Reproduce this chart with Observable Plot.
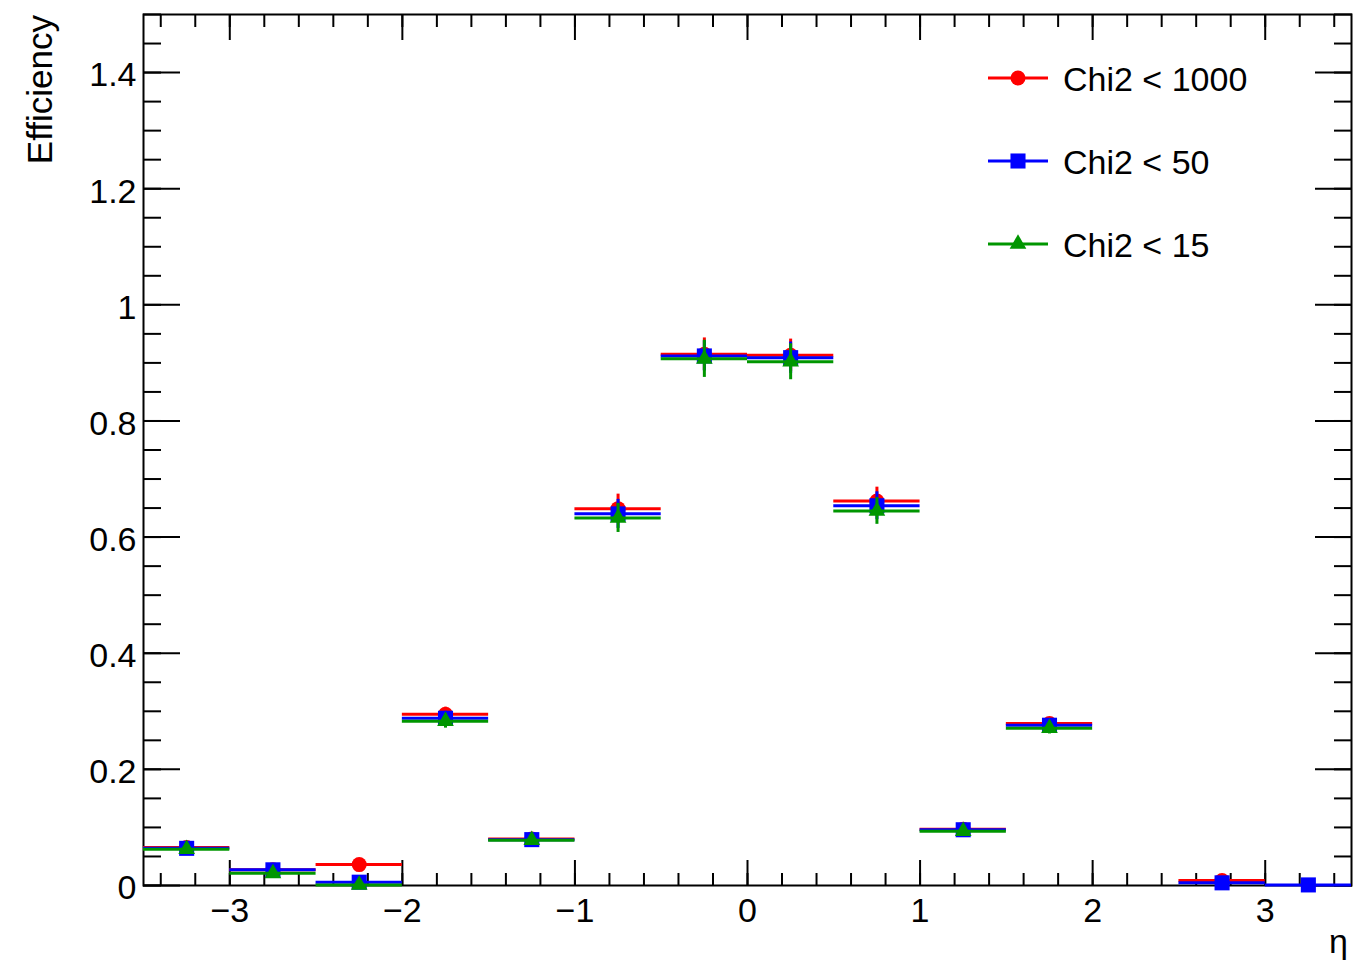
<!DOCTYPE html>
<html><head><meta charset="utf-8">
<script src="https://cdn.jsdelivr.net/npm/d3@7"></script>
<script src="https://cdn.jsdelivr.net/npm/@observablehq/plot@0.6"></script>
<style>html,body{margin:0;padding:0;background:#fff;} #chart{position:relative;width:1354px;height:965px;}</style>
</head><body><div id="chart"></div>
<script>
// ---- data ----
const etaCenters = [-3.25, -2.75, -2.25, -1.75, -1.25, -0.75, -0.25, 0.25, 0.75, 1.25, 1.75, 2.25, 2.75, 3.25];
const binWidth = 0.5;

const seriesNames = ["Chi2 < 1000", "Chi2 < 50", "Chi2 < 15"];
const seriesColors = ["#ff0000", "#0000ff", "#009600"];
const seriesSymbols = ["circle", "square", "triangle"];

const effChi1000 = [0.0655, 0.027, 0.036, 0.295, 0.080, 0.649, 0.915, 0.913, 0.662, 0.097, 0.279, null, 0.0086, null];
const errChi1000 = [0.004, 0.004, 0.006, 0.012, 0.005, 0.025, 0.028, 0.028, 0.024, 0.006, 0.010, null, 0.003, null];
const effChi50   = [0.064, 0.027, 0.0057, 0.288, 0.079, 0.640, 0.912, 0.909, 0.654, 0.096, 0.276, null, 0.0046, 0.001];
const errChi50   = [0.004, 0.004, 0.003, 0.012, 0.005, 0.025, 0.026, 0.027, 0.024, 0.006, 0.010, null, 0.002, 0.0];
const effChi15   = [0.0625, 0.021, 0.001, 0.283, 0.078, 0.633, 0.907, 0.902, 0.645, 0.0936, 0.271, null, null, null];
const errChi15   = [0.004, 0.004, 0.002, 0.012, 0.005, 0.025, 0.032, 0.031, 0.023, 0.006, 0.010, null, null, null];

const xMajorTicks = [-3, -2, -1, 0, 1, 2, 3];
const xMinorTicks = d3.range(-34, 35, 2).map(d => d / 10);
const yMajorTicks = [0, 0.2, 0.4, 0.6, 0.8, 1, 1.2, 1.4];
const yMinorTicks = d3.range(0, 31, 1).map(d => d / 20);

const xLabel = "η";
const yLabel = "Efficiency";

// ---- build rows ----
const effs = [effChi1000, effChi50, effChi15];
const errs = [errChi1000, errChi50, errChi15];
const rowsBySeries = effs.map((eff, s) => etaCenters.map((eta, i) => ({
  series: seriesNames[s], eta, lo: eta - binWidth / 2, hi: eta + binWidth / 2,
  eff: eff[i], err: errs[s][i]
})).filter(d => d.eff != null));

const font = "'Liberation Sans', Arial, Helvetica, sans-serif";
const symbolR = {circle: 7.5, square: 8.5, triangle: 6.2};

const dataMarks = rowsBySeries.flatMap((rows, s) => [
  Plot.ruleY(rows, {y: "eff", x1: "lo", x2: "hi", stroke: seriesColors[s], strokeWidth: 3}),
  Plot.ruleX(rows.filter(d => d.err > 0), {x: "eta", y1: d => d.eff - d.err, y2: d => d.eff + d.err, stroke: seriesColors[s], strokeWidth: 3}),
  Plot.dot(rows, {x: "eta", y: "eff", symbol: seriesSymbols[s], r: symbolR[seriesSymbols[s]], fill: seriesColors[s], stroke: "none"})
]);

const plot = Plot.plot({
  width: 1354, height: 965,
  marginLeft: 143, marginRight: 3, marginTop: 14, marginBottom: 80,
  style: {fontFamily: font, fontSize: "34px", background: "#fff", color: "#000", overflow: "visible"},
  x: {domain: [-3.5, 3.5]},
  y: {domain: [0, 1.5]},
  marks: [
    Plot.frame({stroke: "#000", strokeWidth: 2}),
    // tick labels
    Plot.axisX(xMajorTicks, {anchor: "bottom", tickSize: 0, tickPadding: 12, label: null, fontSize: 34, tickFormat: d3.format("")}),
    Plot.axisY(yMajorTicks, {anchor: "left", tickSize: 0, tickPadding: 7, dy: 3, label: null, fontSize: 34, tickFormat: d => String(+d.toFixed(1))}),
    // inward ticks
    Plot.axisX(xMajorTicks, {anchor: "bottom", tickSize: -25, fill: "none", label: null, strokeWidth: 2}),
    Plot.axisX(xMinorTicks, {anchor: "bottom", tickSize: -12, fill: "none", label: null, strokeWidth: 2}),
    Plot.axisX(xMajorTicks, {anchor: "top", tickSize: -25, fill: "none", label: null, strokeWidth: 2}),
    Plot.axisX(xMinorTicks, {anchor: "top", tickSize: -12, fill: "none", label: null, strokeWidth: 2}),
    Plot.axisY(yMajorTicks, {anchor: "left", tickSize: -37, fill: "none", label: null, strokeWidth: 2}),
    Plot.axisY(yMinorTicks, {anchor: "left", tickSize: -18, fill: "none", label: null, strokeWidth: 2}),
    Plot.axisY(yMajorTicks, {anchor: "right", tickSize: -37, fill: "none", label: null, strokeWidth: 2}),
    Plot.axisY(yMinorTicks, {anchor: "right", tickSize: -18, fill: "none", label: null, strokeWidth: 2}),
    ...dataMarks
  ]
});
document.getElementById("chart").appendChild(plot);

// ---- axis titles and legend ----
const svg = d3.select(plot);
svg.append("text").attr("transform", "translate(52,15) rotate(-90)")
  .attr("text-anchor", "end").attr("font-size", 35).attr("font-family", font).attr("fill", "#000").text(yLabel);
svg.append("text").attr("x", 1348).attr("y", 953)
  .attr("text-anchor", "end").attr("font-size", 34).attr("font-family", font).attr("fill", "#000").text(xLabel);

const legendLineY = [78, 161, 244];
const legend = svg.append("g");
seriesNames.forEach((name, s) => {
  const y = legendLineY[s];
  legend.append("line").attr("x1", 988).attr("x2", 1048).attr("y1", y).attr("y2", y)
    .attr("stroke", seriesColors[s]).attr("stroke-width", 3);
  const r = symbolR[seriesSymbols[s]];
  const sym = {circle: d3.symbolCircle, square: d3.symbolSquare, triangle: d3.symbolTriangle}[seriesSymbols[s]];
  legend.append("path").attr("d", d3.symbol(sym, Math.PI * r * r)())
    .attr("transform", `translate(1018,${y})`).attr("fill", seriesColors[s]);
  legend.append("text").attr("x", 1063).attr("y", y + 13)
    .attr("text-anchor", "start")
    .attr("font-size", 34).attr("font-family", font).attr("fill", "#000").text(name);
});
</script>
</body></html>
